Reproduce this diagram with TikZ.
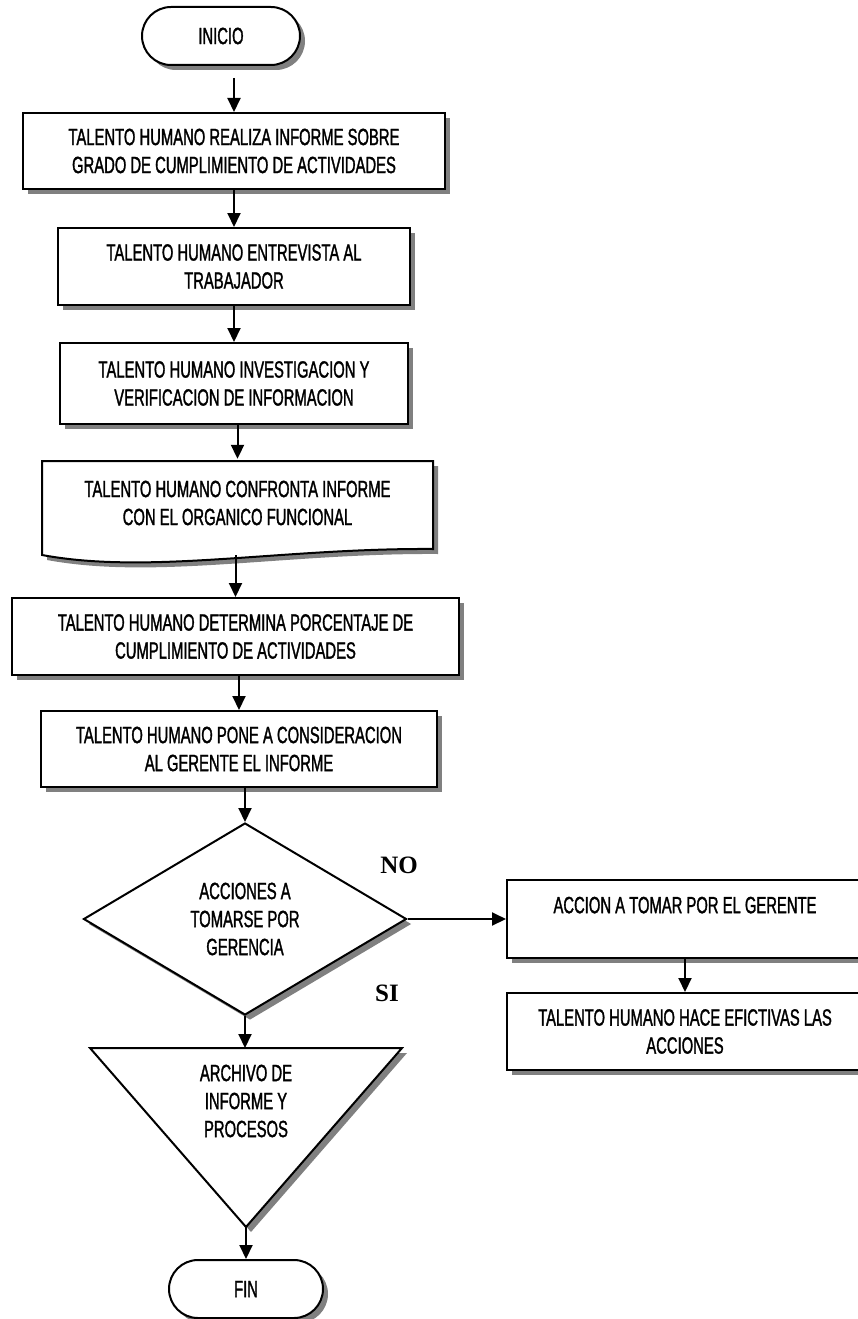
\documentclass[tikz,border=0pt]{standalone}
\usepackage{fontspec}
\setmainfont{Liberation Sans}[FakeStretch=0.63,FakeBold=1.3]
\newfontfamily\lblfont{Liberation Serif}
\usetikzlibrary{arrows.meta,shapes.geometric,shapes.misc,shadows}

\begin{document}
\begin{tikzpicture}[x=1pt,y=-1pt,
  txt/.style={font=\fontsize{23.5}{28}\selectfont,align=center,inner sep=0pt},
  shade/.style={drop shadow={shadow xshift=5pt,shadow yshift=-5pt,fill=black!50,opacity=1}},
  proc/.style={txt,draw,line width=2pt,fill=white,shade},
  term/.style={proc,rounded rectangle},
  arr/.style={-{Triangle[length=14pt,width=13pt]},line width=2pt},
  yesno/.style={font=\lblfont\bfseries\fontsize{25}{25}\selectfont}]
  \useasboundingbox (0,0) rectangle (857,1319);

  \node[term,minimum width=158pt,minimum height=58pt] (inicio) at (221,36) {INICIO};
  \node[proc,minimum width=422pt,minimum height=76pt] (informe) at (234,151)
    {TALENTO HUMANO REALIZA INFORME SOBRE\\GRADO DE CUMPLIMIENTO DE ACTIVIDADES};
  \node[proc,minimum width=352pt,minimum height=77pt] (entrevista) at (234,266.5)
    {TALENTO HUMANO ENTREVISTA AL\\TRABAJADOR};
  \node[proc,minimum width=348pt,minimum height=81pt] (investiga) at (234,383.5)
    {TALENTO HUMANO INVESTIGACION Y\\VERIFICACION DE INFORMACION};

  % documento
  \fill[black!50,xshift=5pt,yshift=-5pt] (42,461) -- (433,461) -- (433,549)
    .. controls (280,548) and (150,575) .. (42,555) -- cycle;
  \draw[line width=2pt,fill=white] (42,461) -- (433,461) -- (433,549)
    .. controls (280,548) and (150,575) .. (42,555) -- cycle;
  \node[txt,minimum width=391pt,minimum height=88pt] (confronta) at (237.5,503)
    {TALENTO HUMANO CONFRONTA INFORME\\CON EL ORGANICO FUNCIONAL};

  \node[proc,minimum width=447pt,minimum height=77pt] (porcentaje) at (235.5,636.5)
    {TALENTO HUMANO DETERMINA PORCENTAJE DE\\CUMPLIMIENTO DE ACTIVIDADES};
  \node[proc,minimum width=396pt,minimum height=76pt] (gerente) at (239,749)
    {TALENTO HUMANO PONE A CONSIDERACION\\AL GERENTE EL INFORME};
  \node[proc,diamond,aspect=1.68,minimum width=323pt,minimum height=192pt] (acciones) at (245,919)
    {ACCIONES A\\TOMARSE POR\\GERENCIA};

  \node[proc,minimum width=356pt,minimum height=78pt] (tomar) at (685,919)
    {ACCION A TOMAR POR EL GERENTE\\ \mbox{}};
  \node[proc,minimum width=356pt,minimum height=77pt] (efectivas) at (685,1031.5)
    {TALENTO HUMANO HACE EFICTIVAS LAS\\ACCIONES};

  % archivo
  \fill[black!50,xshift=5pt,yshift=-5pt] (90,1048) -- (402,1048) -- (246,1227) -- cycle;
  \draw[line width=2pt,fill=white] (90,1048) -- (402,1048) -- (246,1227) -- cycle;
  \coordinate (archtop) at (246,1048);
  \coordinate (archtip) at (246,1227);
  \node[txt] (archivo) at (246,1101) {ARCHIVO DE\\INFORME Y\\PROCESOS};

  \node[term,minimum width=154pt,minimum height=58pt] (fin) at (246,1289) {FIN};

  \node[yesno] (no) at (399,865) {NO};
  \node[yesno] (si) at (387,993) {SI};

  \draw[arr,shorten <=12pt] (inicio.south -| informe.north) -- (informe.north);
  \draw[arr] (informe.south -| entrevista.north) -- (entrevista.north);
  \draw[arr] (entrevista.south -| investiga.north) -- (investiga.north);
  \draw[arr] (investiga.south -| confronta.north) -- (confronta.north);
  \draw[arr,shorten <=8pt] (confronta.south -| porcentaje.north) -- (porcentaje.north);
  \draw[arr] (porcentaje.south -| gerente.north) -- (gerente.north);
  \draw[arr] (gerente.south -| acciones.north) -- (acciones.north);
  \draw[arr] (acciones.east) -- (tomar.west);
  \draw[arr] (tomar.south) -- (efectivas.north);
  \draw[arr] (acciones.south) -- (acciones.south |- archtop);
  \draw[arr] (archtip) -- (fin.north);
\end{tikzpicture}
\end{document}
